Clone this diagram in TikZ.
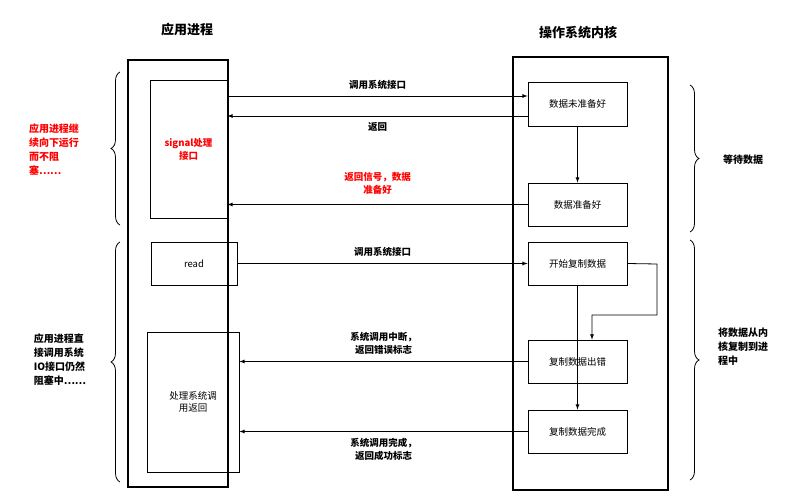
\documentclass[tikz,border=0pt]{standalone}
\usepackage{fontspec}
\setmainfont{Noto Sans CJK SC}
\usetikzlibrary{positioning,decorations.pathreplacing}
\begin{document}
\begin{tikzpicture}[x=1pt,y=-1pt,>=latex,font=\fontsize{9.5}{12}\selectfont]
        \tikzstyle{box}=[draw,thick,inner sep=0pt,align=center]
        \tikzstyle{frame}=[draw,line width=1.2pt,inner sep=0pt]
        \tikzstyle{msg}=[->,thick]
        \tikzstyle{lbl}=[font=\fontsize{9.5}{13}\selectfont\bfseries,align=center]
        \tikzstyle{brace}=[decorate,decoration={brace,amplitude=9pt},thick]
        \tikzstyle{note}=[font=\fontsize{10}{14}\selectfont\bfseries,align=left]
        \useasboundingbox (0,0) rectangle (796,503);
        % columns
        \node[frame,minimum width=100,minimum height=427] (proc) at (178,273.5) {};
        \node[frame,minimum width=155,minimum height=433] (kern) at (590.5,273.5) {};
        \node[font=\fontsize{13}{15}\selectfont\bfseries] (tproc) at (187,30) {应用进程};
        \node[font=\fontsize{13}{15}\selectfont\bfseries] (tkern) at (578,33) {操作系统内核};
        % process side
        \node[box,minimum width=77,minimum height=138,text=red,font=\fontsize{9.5}{13}\selectfont\bfseries] (sig) at (188.5,149) {signal处理\\接口};
        \node[box,minimum width=86,minimum height=43] (read) at (194,263.5) {read};
        \node[box,minimum width=92,minimum height=140] (ret) at (193,402) {处理系统调\\用返回};
        % kernel side
        \node[box,minimum width=99,minimum height=44] (k1) at (577.5,104) {数据未准备好};
        \node[box,minimum width=99,minimum height=43] (k2) at (577.5,204.5) {数据准备好};
        \node[box,minimum width=99,minimum height=43] (k3) at (577.5,263.5) {开始复制数据};
        \node[box,minimum width=99,minimum height=43] (k4) at (577.5,361.5) {复制数据出错};
        \node[box,minimum width=99,minimum height=43] (k5) at (577.5,431.5) {复制数据完成};
        % messages
        \draw[msg] (sig.east |- 0,96) -- (k1.west |- 0,96) node[lbl,midway,above=3pt] {调用系统接口};
        \draw[msg] (k1.west |- 0,116) -- (sig.east |- 0,116) node[lbl,midway,below=3pt] {返回};
        \draw[msg] (k1) -- (k2);
        \draw[msg] (k2.west) -- (sig.east |- k2.west) node[lbl,midway,above=6pt,text=red] {返回信号，数据\\准备好};
        \draw[msg] (read) -- (k3) node[lbl,midway,above=3pt] {调用系统接口};
        \coordinate (c1) at (657,264);
        \coordinate (c2) at (657,315);
        \coordinate (c3) at (592,315);
        \draw[msg] (k3.east) -- (c1) -- (c2) -- (c3) -- (c3 |- k4.north);
        \draw[msg] (k3.south) -- (k5.north);
        \draw[msg] (k4.west) -- (ret.east |- k4.west) node[lbl,midway,above=3pt] {系统调用中断，\\返回错误标志};
        \draw[msg] (k5.west) -- (ret.east |- k5.west) node[lbl,midway,below=3pt] {系统调用完成，\\返回成功标志};
        % braces
        \draw[brace] (120,225) -- (120,72) coordinate[midway] (bl1);
        \draw[brace] (120,482) -- (120,242) coordinate[midway] (bl2);
        \draw[brace] (690,85) -- (690,232) coordinate[midway] (br1);
        \draw[brace] (690,240) -- (690,480) coordinate[midway] (br2);
        \node[note,text=red] (n1) at (54,150) {应用进程继\\续向下运行\\而不阻\\塞……};
        \node[note] (n2) at (60,360) {应用进程直\\接调用系统\\IO接口仍然\\阻塞中……};
        \node[note] (n3) at (743,160) {等待数据};
        \node[note] (n4) at (743,347) {将数据从内\\核复制到进\\程中};
\end{tikzpicture}
\end{document}
